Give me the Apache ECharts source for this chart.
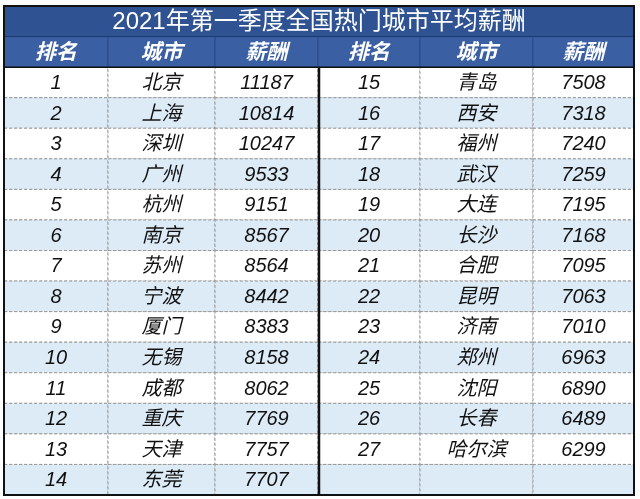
<!DOCTYPE html>
<html><head><meta charset="utf-8">
<script src="https://cdn.jsdelivr.net/npm/echarts@6/dist/echarts.min.js"></script>
<style>html,body{margin:0;background:#fff}#c{width:640px;height:499px}</style>
</head><body><div id="c"></div>
<script>
const title = '2021年第一季度全国热门城市平均薪酬';
const headers = ['排名','城市','薪酬'];
const ranks = [1,2,3,4,5,6,7,8,9,10,11,12,13,14,15,16,17,18,19,20,21,22,23,24,25,26,27];
const cities = ['北京','上海','深圳','广州','杭州','南京','苏州','宁波','厦门','无锡','成都','重庆','天津','东莞',
  '青岛','西安','福州','武汉','大连','长沙','合肥','昆明','济南','郑州','沈阳','长春','哈尔滨'];
const salaries = [11187,10814,10247,9533,9151,8567,8564,8442,8383,8158,8062,7769,7757,7707,
  7508,7318,7240,7259,7195,7168,7095,7063,7010,6963,6890,6489,6299];

const colEdges = [0,104,211,314,416,529,630];
const ROWS = 14;
const cells = [];
for (let side = 0; side < 2; side++) {
  for (let r = 0; r < ROWS; r++) {
    const i = side * ROWS + r;
    const has = i < ranks.length;
    cells.push([side*3+0, r+2, has ? String(ranks[i]) : '', 'd']);
    cells.push([side*3+1, r+2, has ? cities[i] : '', 'd']);
    cells.push([side*3+2, r+2, has ? String(salaries[i]) : '', 'd']);
  }
  headers.forEach((h,k)=>cells.push([side*3+k, 1, h, 'h']));
}
cells.push([0, 0, title, 't']);

const chart = echarts.init(document.getElementById('c'));
chart.setOption({
  animation:false,
  grid:{left:4,right:6,top:6,bottom:4},
  xAxis:{type:'value',min:0,max:630,show:false},
  yAxis:{type:'value',min:0,max:16,inverse:true,show:false},
  series:[{
    type:'custom',
    data:cells,
    renderItem:function(params, api){
      const c = api.value(0), r = api.value(1), kind = cells[params.dataIndex][3];
      const text = cells[params.dataIndex][2];
      let x0 = colEdges[c], x1 = colEdges[c+1];
      if (kind==='t'){ x0 = colEdges[0]; x1 = colEdges[6]; }
      const p0 = api.coord([x0, r]), p1 = api.coord([x1, r+1]);
      let fill, stroke, dash, font, color, italic = true, weight='normal', size=20;
      if (kind==='t'){ fill='#2F5293'; stroke='#1f3a6e'; dash=null; color='#fff'; italic=false; weight='normal'; size=24; }
      else if (kind==='h'){ fill='#3A5FA3'; stroke='#2a4a88'; dash=null; color='#fff'; size=21; weight='bold'; }
      else { fill = (r-2)%2===0 ? '#ffffff' : '#DDEBF7'; stroke='#9a9a9a'; dash=[3,2]; color='#111'; }
      return {type:'group',children:[
        {type:'rect',shape:{x:p0[0],y:p0[1],width:p1[0]-p0[0],height:p1[1]-p0[1]},
         style:{fill:fill,stroke:stroke,lineWidth:1,lineDash:dash}},
        {type:'text',style:{text:text,x:(p0[0]+p1[0])/2,y:(p0[1]+p1[1])/2+1,
          align:'center',verticalAlign:'middle',fill:color,
          font:(italic?'italic ':'')+weight+' '+size+'px "Liberation Sans","Noto Sans CJK SC",sans-serif'}}
      ]};
    }
  },{
    type:'custom',
    data:[[0]],
    z:10,
    renderItem:function(params, api){
      const tl = api.coord([0,0]), br = api.coord([630,16]);
      const m0 = api.coord([colEdges[3],2]), m1 = api.coord([colEdges[3],16]);
      const h0 = api.coord([0,2]);
      return {type:'group',children:[
        {type:'rect',shape:{x:tl[0],y:tl[1],width:br[0]-tl[0],height:br[1]-tl[1]},style:{fill:null,stroke:'#111',lineWidth:2}},
        {type:'line',shape:{x1:m0[0]+1,y1:m0[1],x2:m1[0]+1,y2:m1[1]},style:{stroke:'#111',lineWidth:2.5}},
        {type:'line',shape:{x1:h0[0],y1:h0[1],x2:br[0],y2:h0[1]},style:{stroke:'#111',lineWidth:1.5}}
      ]};
    }
  }]
});
</script></body></html>
